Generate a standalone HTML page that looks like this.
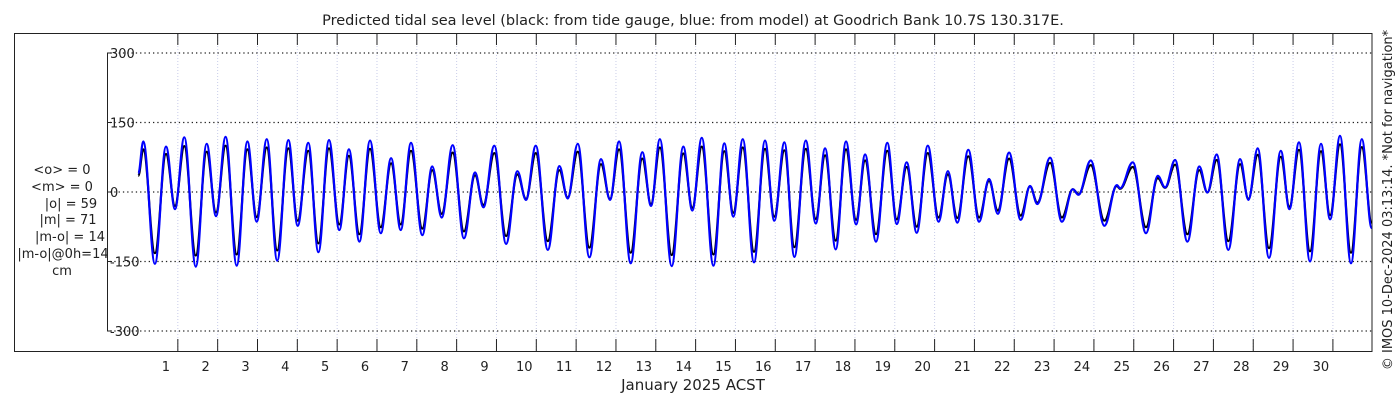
<!DOCTYPE html>
<html><head><meta charset="utf-8"><style>
html,body{margin:0;padding:0;background:#fff;}
svg{display:block;font-family:"DejaVu Sans","Liberation Sans",sans-serif;}
</style></head><body>
<svg id="chart" width="1400" height="400" viewBox="0 0 1400 400" xmlns="http://www.w3.org/2000/svg">
<text x="693" y="25" font-size="14.5" text-anchor="middle" fill="#222">Predicted tidal sea level (black: from tide gauge, blue: from model) at Goodrich Bank 10.7S 130.317E.</text>
<rect x="14.5" y="33.5" width="1357.5" height="318" fill="none" stroke="#222" stroke-width="1"/>
<g font-size="13" fill="#222" text-anchor="middle">
<text x="62" y="174">&lt;o&gt; = 0</text>
<text x="62" y="191">&lt;m&gt; = 0</text>
<text x="71" y="208">|o| = 59</text>
<text x="68" y="224">|m| = 71</text>
<text x="70" y="241">|m-o| = 14</text>
<text x="63" y="258">|m-o|@0h=14</text>
<text x="62" y="275">cm</text>
</g>
<text transform="translate(1392,200) rotate(-90)" font-size="13" fill="#222" text-anchor="middle">© IMOS 10-Dec-2024 03:13:14. *Not for navigation*</text>
<text x="693" y="390" font-size="15" text-anchor="middle" fill="#222">January 2025 ACST</text>
<g id="grid"></g><g id="axes"></g><g id="series"></g>
</svg>
<script>
// time in hours from start of plotted window, values in cm
const blueHours=[0.2,3.2,10.2,16.9,22.3,27.9,34.8,41.4,47.0,52.8,59.5,65.9,71.5,77.6,83.9,90.6,96.2,102.6,108.7,115.1,121.3,127.1,133.4,139.8,146.3,152.5,158.3,164.5,171.3,177.3,183.0,189.6,196.4,203.1,208.1,214.7,221.8,228.6,233.8,239.7,246.9,253.9,258.9,265.0,272.0,279.0,284.4,289.9,296.9,303.9,309.1,314.5,321.6,328.6,334.0,339.7,346.7,353.3,358.7,364.4,371.2,377.8,383.4,389.5,395.5,402.4,408.4,414.0,420.4,426.6,432.7,438.1,444.7,451.5,457.2,463.2,469.2,475.9,482.4,488.0,493.7,500.3,506.8,512.8,518.1,524.9,531.9,537.5,541.9,549.6,556.7,563.3,566.7,574.1,582.3,589.8,591.8,599.4,607.4,614.5,618.9,624.9,632.3,639.5,644.4,650.0,657.0,664.1,669.1,674.7,681.5,688.6,693.8,699.6,706.2,712.8,718.3,724.3,730.9,737.4,743.4];
const blueValues=[40,109,-155,98,-37,118,-161,104,-52,119,-159,109,-64,114,-148,112,-73,106,-130,112,-82,92,-107,111,-89,73,-82,106,-93,55,-55,101,-100,42,-33,100,-112,45,-17,100,-125,56,-14,104,-141,71,-17,109,-154,86,-30,114,-160,98,-40,117,-159,105,-53,114,-152,111,-62,107,-140,111,-68,94,-124,109,-70,81,-107,106,-69,64,-88,100,-64,45,-66,91,-64,28,-47,85,-60,13,-26,74,-64,6,-6,68,-73,15,8,64,-89,35,10,69,-107,55,-1,81,-125,71,-17,94,-142,89,-37,107,-150,104,-59,121,-154,114,-78];
const blackValues=[35,92,-132,82,-30,99,-137,87,-44,100,-135,92,-54,96,-126,94,-62,89,-111,94,-70,78,-91,93,-76,62,-70,89,-79,47,-47,85,-85,36,-28,84,-95,38,-15,84,-106,47,-12,87,-120,60,-15,92,-131,72,-26,96,-136,83,-34,98,-135,88,-45,96,-129,93,-53,90,-119,93,-58,79,-105,92,-60,68,-91,89,-59,54,-75,84,-55,38,-56,77,-55,24,-40,72,-51,12,-23,63,-55,6,-5,58,-62,13,7,54,-76,30,9,59,-91,47,-1,69,-106,60,-15,80,-121,76,-32,91,-128,88,-50,103,-131,97,-66];
const yTicks=[300,150,0,-150,-300];
const dayLabels=["1","2","3","4","5","6","7","8","9","10","11","12","13","14","15","16","17","18","19","20","21","22","23","24","25","26","27","28","29","30"];

const NS="http://www.w3.org/2000/svg";
const X0=138, PXH=39.83/24;
const xScale=h=>X0+h*PXH;
const yScale=v=>192-v*0.4633;
const xDay=d=>xScale(d*24);
function mk(tag,attrs,parent){const e=document.createElementNS(NS,tag);for(const k in attrs)e.setAttribute(k,attrs[k]);parent.appendChild(e);return e;}
const grid=document.getElementById('grid'),axes=document.getElementById('axes'),series=document.getElementById('series');

dayLabels.forEach((lab,i)=>{
  const x=xDay(i+1);
  const g=mk('line',{x1:x,x2:x,y1:34,y2:351,stroke:'#c8cce8','stroke-width':1,'stroke-dasharray':'1,2'},grid);
  
  
  const tb=mk('line',{x1:x,x2:x,y1:339,y2:351,stroke:'#222','stroke-width':1},axes);
  
  
  const tt=mk('line',{x1:x,x2:x,y1:34,y2:45,stroke:'#222','stroke-width':1},axes);
  
  
  const t=mk('text',{x:x-12,y:371,'font-size':13,'text-anchor':'middle',fill:'#222'},axes);
  t.textContent=lab;
  
  
});
yTicks.forEach(v=>{
  const y=yScale(v);
  const l=mk('line',{x1:110,x2:1372,y1:y,y2:y,stroke:'#222','stroke-width':1.3,'stroke-dasharray':'1.3,3'},grid);
  
  
  const tk=mk('line',{x1:107,x2:112,y1:y,y2:y,stroke:'#222','stroke-width':1},axes);
  
  
  const t=mk('text',{x:110,y:y+5,'font-size':13,fill:'#222'},axes);
  t.textContent=(v<0?'-':'')+Math.abs(v);
  
  
});
const ya=mk('line',{x1:107.5,x2:107.5,y1:yScale(300),y2:yScale(-300),stroke:'#222','stroke-width':1},axes);



function pathFrom(hours,vals){
  let d='M'+xScale(hours[0]).toFixed(1)+','+yScale(vals[0]).toFixed(1);
  for(let i=1;i<hours.length;i++){
    const x0=xScale(hours[i-1]),y0=yScale(vals[i-1]),x1=xScale(hours[i]),y1=yScale(vals[i]);
    const dx=(x1-x0)*0.38;
    d+=' C'+(x0+dx).toFixed(1)+','+y0.toFixed(1)+' '+(x1-dx).toFixed(1)+','+y1.toFixed(1)+' '+x1.toFixed(1)+','+y1.toFixed(1);
  }
  return d;
}
const pb=mk('path',{d:pathFrom(blueHours,blackValues),fill:'none',stroke:'#000','stroke-width':2.2},series);


const pm=mk('path',{d:pathFrom(blueHours,blueValues),fill:'none',stroke:'#0000ff','stroke-width':2.2},series);


</script>
</body></html>
